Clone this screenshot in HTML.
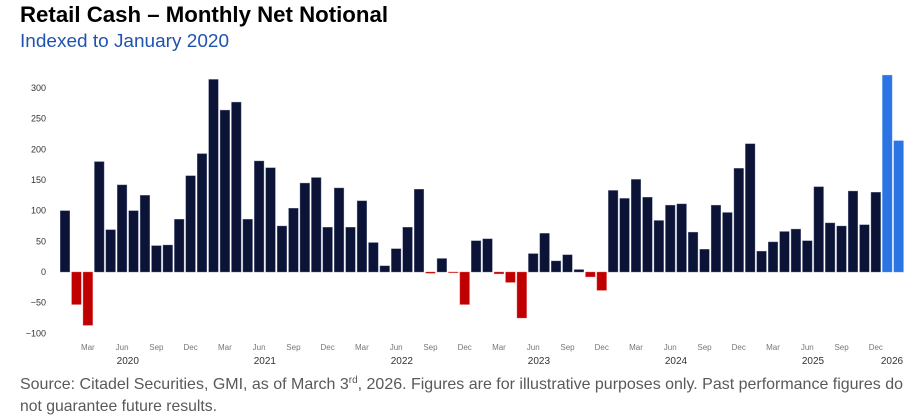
<!DOCTYPE html>
<html><head><meta charset="utf-8"><style>
html,body{margin:0;padding:0;background:#fff;width:906px;height:416px;overflow:hidden}
svg{display:block;font-family:"Liberation Sans",sans-serif}
</style></head><body>
<svg id="s" width="906" height="416" viewBox="0 0 906 416">
<text x="20" y="22" font-size="22" font-weight="bold" fill="#000" textLength="368" lengthAdjust="spacingAndGlyphs">Retail Cash – Monthly Net Notional</text>
<text x="20" y="47" font-size="18.5" fill="#2052b0" textLength="209" lengthAdjust="spacingAndGlyphs">Indexed to January 2020</text>
<g id="yl" font-size="9" fill="#333" text-anchor="end"></g>
<g id="bars"></g>
<g id="xl" font-size="8" fill="#777" text-anchor="middle"></g>
<g id="yr" font-size="10" fill="#333" text-anchor="middle"></g>
<text x="20" y="389" font-size="16" fill="#595959" textLength="883" lengthAdjust="spacingAndGlyphs">Source: Citadel Securities, GMI, as of March 3<tspan font-size="10" dy="-6">rd</tspan><tspan dy="6">, 2026. Figures are for illustrative purposes only. Past performance figures do</tspan></text>
<text x="20" y="411" font-size="16" fill="#595959" textLength="197" lengthAdjust="spacingAndGlyphs">not guarantee future results.</text>
</svg>
<script>
var s=document.getElementById('s');
var ns='http://www.w3.org/2000/svg';
function el(t,a,p,txt){var e=document.createElementNS(ns,t);for(var k in a)e.setAttribute(k,a[k]);if(txt!=null)e.textContent=txt;p.appendChild(e);return e;}
var y0=272,k=0.6133;
var yl=document.getElementById('yl');
[300,250,200,150,100,50,0,-50,-100].forEach(function(v){el('text',{x:46,y:y0-v*k+3},yl,v<0?'\u2212'+(-v):v);});
var vals=[100,-53,-87,180,69,142,100,125,43,44,86,157,
193,314,264,277,86,181,170,75,104,145,154,73,
137,73,116,48,10,38,73,135,-2,22,-1,-53,
51,54,-3,-17,-75,30,63,18,28,4,-8,-30,
133,120,151,122,84,109,111,65,37,109,97,169,
209,34,49,66,70,51,139,80,75,132,77,130,
321,214];
var b=document.getElementById('bars');
vals.forEach(function(v,i){
 var cx=65+11.42*i;
 var col=i>=72?'#2b74e3':(v<0?'#c00000':'#0b1437');
 var h=Math.abs(v)*k;
 el('rect',{x:cx-4.8,y:v>=0?y0-h:y0,width:9.6,height:Math.max(h,0.8),fill:col,stroke:i>=72?'#5a95ee':(v<0?'#e06060':'#6a7090'),'stroke-width':0.4},b);
});
var xl=document.getElementById('xl');
var mn=['Mar','Jun','Sep','Dec'];
for(var i=0;i<74;i++){var m=i%12;if(m%3==2){el('text',{x:65+11.42*i,y:350},xl,mn[(m-2)/3]);}}
var yr=document.getElementById('yr');
for(var y=0;y<7;y++){el('text',{x:65+11.42*(12*y+5.5),y:364},yr,2020+y);}
yr.lastChild.setAttribute('x',892);
</script>
</body></html>
